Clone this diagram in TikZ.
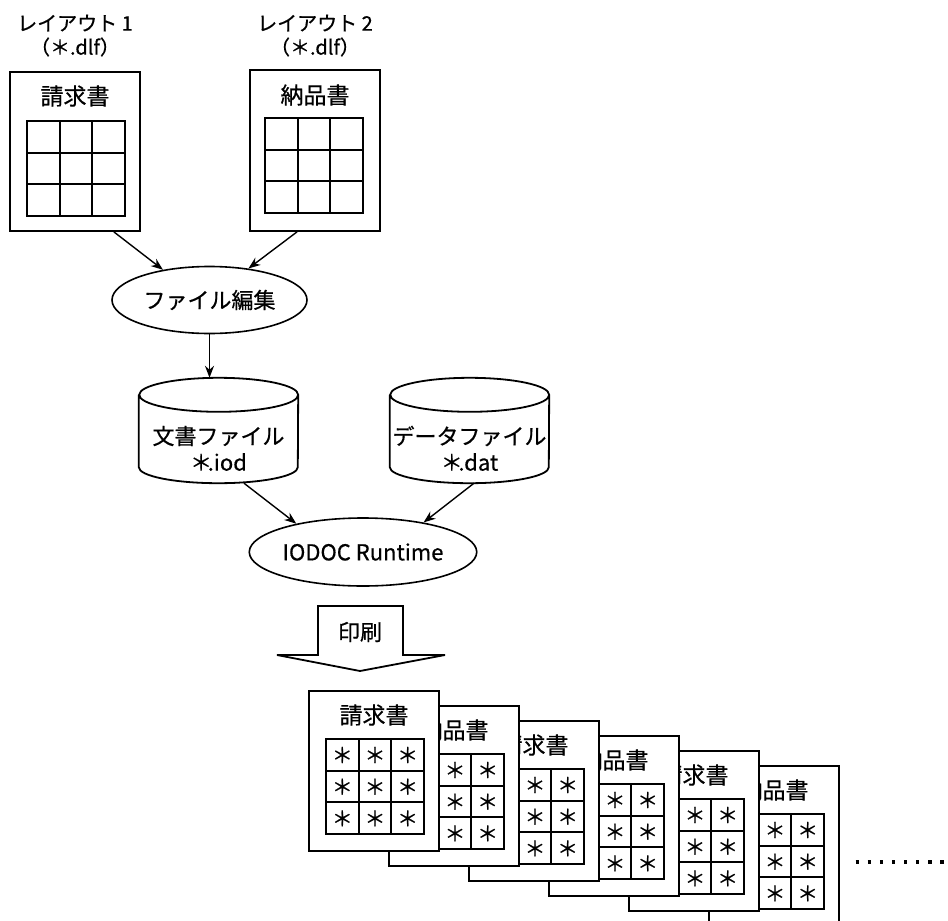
\documentclass[tikz,border=0pt]{standalone}
\usepackage{fontspec}
\setmainfont{Noto Sans CJK JP}[FakeBold=0.6]
\usetikzlibrary{shapes.geometric,arrows.meta,calc}
\tikzset{
  boxline/.style={line width=1.8pt},
  gridline/.style={line width=1.7pt},
  doc/.style={draw, line width=1.8pt, fill=white, minimum width=130pt, minimum height=160pt, inner sep=0pt},
  proc/.style={ellipse, draw, line width=1.6pt, inner sep=0pt, font=\fontsize{22}{24}\selectfont},
  conn/.style={line width=1.4pt, -{Stealth[length=12pt,width=9pt]}},
  lbl/.style={font=\fontsize{20}{24}\selectfont, inner sep=0pt},
  ttl/.style={font=\fontsize{23}{26}\selectfont, inner sep=0pt},
  cyltxt/.style={font=\fontsize{22}{24}\selectfont, inner sep=0pt},
  star/.style={font=\fontsize{21}{21}\selectfont, inner sep=0pt},
}
\newcommand\mygrid[2]{%
  \draw[gridline] (#1,#2) rectangle ++(98,95);
  \draw[gridline] (#1+32.67,#2) -- ++(0,95);
  \draw[gridline] (#1+65.33,#2) -- ++(0,95);
  \draw[gridline] (#1,#2+31.67) -- ++(98,0);
  \draw[gridline] (#1,#2+63.33) -- ++(98,0);
}
\begin{document}
\begin{tikzpicture}[x=1pt,y=-1pt]
\useasboundingbox (0,0) rectangle (948,921);

% --- layouts ---
\node[lbl] (n1) at (75,23) {レイアウト 1};
\node[lbl] (n1b) at (75,47) {（＊.dlf）};
\node[lbl] (n2) at (315,23) {レイアウト 2};
\node[lbl] (n2b) at (315,47) {（＊.dlf）};

\node[doc, minimum height=159pt] (L1) at (75,151.5) {};
\node[ttl] (t1) at (75,96) {請求書};
\mygrid{27}{121}
\node[doc, minimum height=161pt] (L2) at (315,150.5) {};
\node[ttl] (t2) at (315,95) {納品書};
\mygrid{265}{118}

% --- edit process ---
\node[proc, minimum width=195pt, minimum height=67pt] (e1) at (209.5,300) {ファイル編集};

% --- cylinders ---
\node[minimum width=159pt, minimum height=105pt, inner sep=0pt] (c1) at (218.5,430.5) {};
\node[minimum width=159pt, minimum height=105pt, inner sep=0pt] (c2) at (469.5,430.5) {};
\foreach \c in {c1,c2}{
  \draw[boxline] ([yshift=-17pt]\c.north west) -- ([yshift=16pt]\c.south west)
    arc[start angle=180,end angle=360,x radius=79.5pt,y radius=16pt]
    -- ([yshift=-17pt]\c.north east)
    arc[start angle=0,end angle=180,x radius=79.5pt,y radius=17pt]
    arc[start angle=180,end angle=360,x radius=79.5pt,y radius=17pt];
}
\node[cyltxt] (c1a) at (218.5,436) {文書ファイル};
\node[cyltxt] (c1b) at (218.5,462) {＊\kern-0.2em.iod};
\node[cyltxt] (c2a) at (469.5,436) {データファイル};
\node[cyltxt] (c2b) at (469.5,462) {＊\kern-0.2em.dat};

% --- runtime ---
\node[proc, minimum width=224pt, minimum height=68pt] (e2) at (363,552) {IODOC Runtime};

% --- connectors ---
\draw[conn] ([xshift=-27pt]L1.south east) -- (e1.147);
\draw[conn] ([xshift=-18pt]L2.south) -- (e1.39);
\draw[conn] (e1.south) -- (e1.south |- c1.north);
\draw[conn] ([xshift=25.5pt]c1.south) -- (e2.157);
\draw[conn] ([xshift=4.5pt]c2.south) -- (e2.26);

% --- print arrow ---
\coordinate (pa) at (360,606);
\draw[boxline] ($(pa)+(-42,0)$) -- ($(pa)+(43,0)$) -- ($(pa)+(43,49)$) -- ($(pa)+(85,49)$)
  -- ($(pa)+(0,65)$) -- ($(pa)+(-83,49)$) -- ($(pa)+(-42,49)$) -- cycle;
\node[font=\fontsize{22}{24}\selectfont, inner sep=0pt] (prt) at (360,632) {印刷};

% --- printed pages ---
\begin{scope}
\clip (0,0) rectangle (948,921);
\foreach \k in {5,4,3,2,1,0}{
  \pgfmathsetmacro\xo{309+80*\k}
  \pgfmathsetmacro\yo{691+15*\k}
  \pgfmathtruncatemacro\odd{mod(\k,2)}
  \node[doc] (pg\k) at (\xo+65,\yo+80) {};
  \ifnum\odd=0
    \node[ttl] (pt\k) at (\xo+65,\yo+24) {請求書};
  \else
    \node[ttl] (pt\k) at (\xo+65,\yo+24) {納品書};
  \fi
  \mygrid{\xo+17}{\yo+48}
  \foreach \i in {0,1,2}{
    \foreach \j in {0,1,2}{
      \node[star] (s\k-\i-\j) at (\xo+17+16.33+32.67*\i,\yo+48+16+31.67*\j) {＊};
    }
  }
}
\end{scope}

% --- continuation dots ---
\coordinate (d0) at (855.5,862);
\coordinate (d1) at (945,862);
\draw[line width=3.2pt, dash pattern=on 3.2pt off 8.94pt] (d0) -- (d1);
\end{tikzpicture}
\end{document}
